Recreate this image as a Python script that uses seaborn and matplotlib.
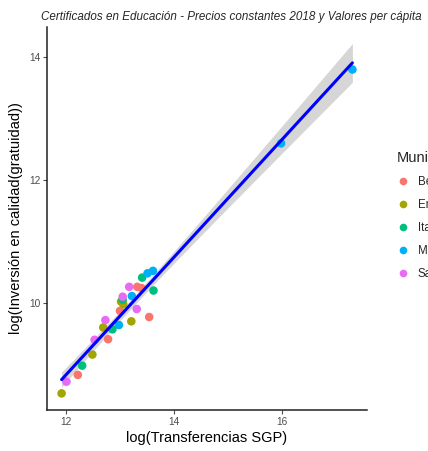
import numpy as np
import pandas as pd
import matplotlib
matplotlib.use("Agg")
import matplotlib.pyplot as plt
import seaborn as sns

# values (log scale)
municipios = ["Bello", "Envigado", "Itagüí", "Medellín", "Sabaneta"]
colores = ["#F8766D", "#A3A500", "#00BF7D", "#00B0F6", "#E76BF3"]

bello_x = [12.22, 12.78, 13.00, 13.32, 13.40, 13.54]
bello_y = [8.83, 9.41, 9.87, 10.26, 10.24, 9.77]
envigado_x = [11.92, 12.49, 12.69, 13.02, 13.06, 13.21]
envigado_y = [8.53, 9.16, 9.60, 10.02, 9.98, 9.70]
itagui_x = [12.30, 12.86, 13.05, 13.41, 13.62]
itagui_y = [8.98, 9.57, 10.05, 10.41, 10.20]
medellin_x = [12.98, 13.22, 13.51, 13.61, 15.98, 17.30]
medellin_y = [9.64, 10.11, 10.48, 10.52, 12.59, 13.79]
sabaneta_x = [12.01, 12.53, 12.73, 13.05, 13.17, 13.31]
sabaneta_y = [8.72, 9.40, 9.72, 10.10, 10.26, 9.90]

xs = [bello_x, envigado_x, itagui_x, medellin_x, sabaneta_x]
ys = [bello_y, envigado_y, itagui_y, medellin_y, sabaneta_y]
df = pd.concat([pd.DataFrame({"x": a, "y": b, "Municipio": m})
                for a, b, m in zip(xs, ys, municipios)], ignore_index=True)

sns.set_theme(style="ticks")
plt.rcParams["font.family"] = ["Liberation Sans", "DejaVu Sans"]

fig = plt.figure(figsize=(4.28, 4.51), dpi=100)
ax = fig.add_axes([47 / 428, 1 - 410 / 451, 320 / 428, 383 / 451])

sns.scatterplot(data=df, x="x", y="y", hue="Municipio", hue_order=municipios,
                palette=colores, s=38, linewidth=0, ax=ax, legend=False, zorder=2)

# analytic 95% confidence band of the linear fit (like geom_smooth(method="lm"))
x = df["x"].to_numpy()
y = df["y"].to_numpy()
n = len(x)
b1, b0 = np.polyfit(x, y, 1)
resid = y - (b0 + b1 * x)
s_err = np.sqrt(np.sum(resid ** 2) / (n - 2))
grid = np.linspace(x.min(), x.max(), 100)
se = s_err * np.sqrt(1 / n + (grid - x.mean()) ** 2 / np.sum((x - x.mean()) ** 2))
t_val = 2.052  # t(0.975, df=27)
fit = b0 + b1 * grid
ax.fill_between(grid, fit - t_val * se, fit + t_val * se, color="#999999",
                alpha=0.4, linewidth=0, zorder=1)
sns.regplot(data=df, x="x", y="y", scatter=False, ci=None, color="blue", ax=ax,
            line_kws={"linewidth": 2.2, "zorder": 3})

ax.set_xlim(11.65, 17.57)
ax.set_ylim(8.26, 14.48)
ax.set_xticks([12, 14, 16])
ax.set_yticks([10, 12, 14])
ax.set_xlabel("log(Transferencias SGP)", fontsize=10.5, color="black", labelpad=3)
ax.set_ylabel("log(Inversión en calidad(gratuidad))", fontsize=10.5, color="black", labelpad=4)
ax.tick_params(labelsize=7.3, colors="#4D4D4D", length=3, width=0.8, pad=2)
for s in ["top", "right"]:
    ax.spines[s].set_visible(False)
for s in ["left", "bottom"]:
    ax.spines[s].set_linewidth(1.1)
    ax.spines[s].set_color("#222222")

fig.text(41 / 428, 1 - 17 / 451, "Certificados en Educación - Precios constantes 2018 y Valores per cápita",
         fontsize=8.35, style="italic", ha="left", va="center")

handles = [plt.Line2D([], [], marker="o", linestyle="", markersize=5.5,
                      markerfacecolor=c, markeredgewidth=0) for c in colores]
fig.legend(handles, municipios, title="Municipio", loc="upper left",
           bbox_to_anchor=(386 / 428, 1 - 141 / 451), frameon=False,
           fontsize=8.3, title_fontsize=10.5, labelspacing=0.95,
           handletextpad=0.65, handlelength=1.2, alignment="left")

fig.savefig("out.png", dpi=100)
